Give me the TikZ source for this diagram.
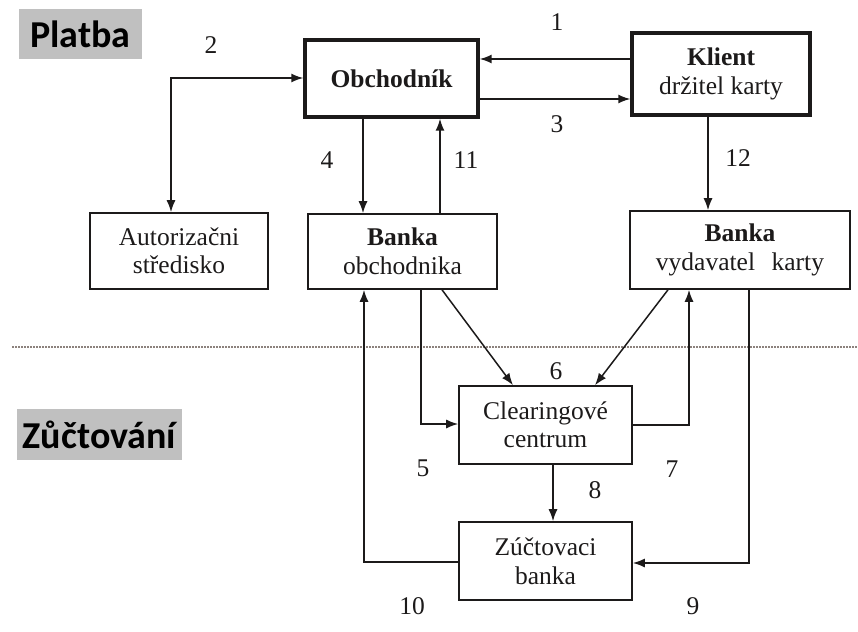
\documentclass[tikz,border=0pt]{standalone}
\usepackage{fontspec}
\setmainfont{Liberation Serif}
\newfontfamily\headfont{Carlito}
\usetikzlibrary{arrows.meta}
\definecolor{ink}{RGB}{28,26,26}
\definecolor{bandgray}{RGB}{192,192,192}
\definecolor{sepline}{RGB}{140,130,125}
\begin{document}
\begin{tikzpicture}[x=1pt,y=-1pt,
  every node/.style={text=ink},
  txt/.style={font=\fontsize{25.5}{28.5}\selectfont},
  box/.style={txt, draw=ink, line width=1.6pt, rectangle, align=center, inner sep=0pt},
  thickbox/.style={box, line width=3.4pt},
  tip/.style={Latex[length=12pt,width=9pt]},
  arr/.style={draw=ink, line width=1.5pt, -{Latex[length=12pt,width=9pt]}},
  num/.style={txt, inner sep=0pt},
  section/.style={fill=bandgray, inner sep=0pt, font=\headfont\bfseries\fontsize{38}{40}\selectfont, text=black},
  sep/.style={draw=sepline, line width=1.3pt, dash pattern=on 2pt off 1pt}
]
\useasboundingbox (0,0) rectangle (858,631);

% section headings
\node[section, minimum width=123, minimum height=50] (platba) at (80.5,34) {Platba};
\node[section, minimum width=165, minimum height=51] (zuctovani) at (99.5,434.5) {Zůčtování};

% boundary between payment and settlement
\coordinate (sepL) at (12,347);
\coordinate (sepR) at (858,347);
\draw[sep] (sepL) -- (sepR);

% boxes
\node[thickbox, minimum width=173, minimum height=77] (obch) at (391.5,78.5) {\textbf{Obchodník}};
\node[thickbox, minimum width=178, minimum height=82] (klient) at (721,74) {\textbf{Klient}\\držitel karty};
\node[box, minimum width=178, minimum height=76] (autor) at (179,251) {Autorizačni\\středisko};
\node[box, minimum width=189, minimum height=75] (bobch) at (402.5,251.5) {\textbf{Banka}\\obchodnika};
\node[box, minimum width=220, minimum height=78] (bvyd) at (740,250) {\textbf{Banka}\\vydavatel\hspace{0.65em}karty};
\node[box, minimum width=173, minimum height=78] (clear) at (545.5,425) {Clearingové\\centrum};
\node[box, minimum width=173, minimum height=78] (zuct) at (545.5,561) {Zúčtovaci\\banka};

% flows
\draw[arr] (klient.west |- 0,59) -- (obch.east |- 0,59);
\draw[arr, {Latex[length=12pt,width=9pt]}-{Latex[length=12pt,width=9pt]}] (autor.north -| 171,0) |- (obch.west |- 0,78);
\draw[arr] (obch.east |- 0,99) -- (klient.west |- 0,99);
\draw[arr] (obch.south -| 363,0) -- (bobch.north -| 363,0);
\draw[arr] (bobch.north -| 440,0) -- (obch.south -| 440,0);
\draw[arr] (klient.south -| 708,0) -- (bvyd.north -| 708,0);
\draw[arr] (bobch.south -| 421,0) |- (clear.west |- 0,424);
\draw[arr] (bobch.south -| 442,0) -- (clear.north -| 513,0);
\draw[arr] (bvyd.south -| 668,0) -- (clear.north -| 595,0);
\draw[arr] (clear.east |- 0,425) -| (bvyd.south -| 689,0);
\draw[arr] (clear.south -| 553,0) -- (zuct.north -| 553,0);
\draw[arr] (bvyd.south -| 749,0) |- (zuct.east |- 0,563);
\draw[arr] (zuct.west |- 0,562) -| (bobch.south -| 364,0);

% step numbers
\node[num] (n1) at (557,22) {1};
\node[num] (n2) at (211,45) {2};
\node[num] (n3) at (557,124) {3};
\node[num] (n4) at (327,160) {4};
\node[num] (n11) at (466,160) {11};
\node[num] (n12) at (738,158) {12};
\node[num] (n6) at (556,371) {6};
\node[num] (n5) at (423,468) {5};
\node[num] (n7) at (672,469) {7};
\node[num] (n8) at (595,490) {8};
\node[num] (n10) at (412,606) {10};
\node[num] (n9) at (693,606) {9};
\end{tikzpicture}
\end{document}
